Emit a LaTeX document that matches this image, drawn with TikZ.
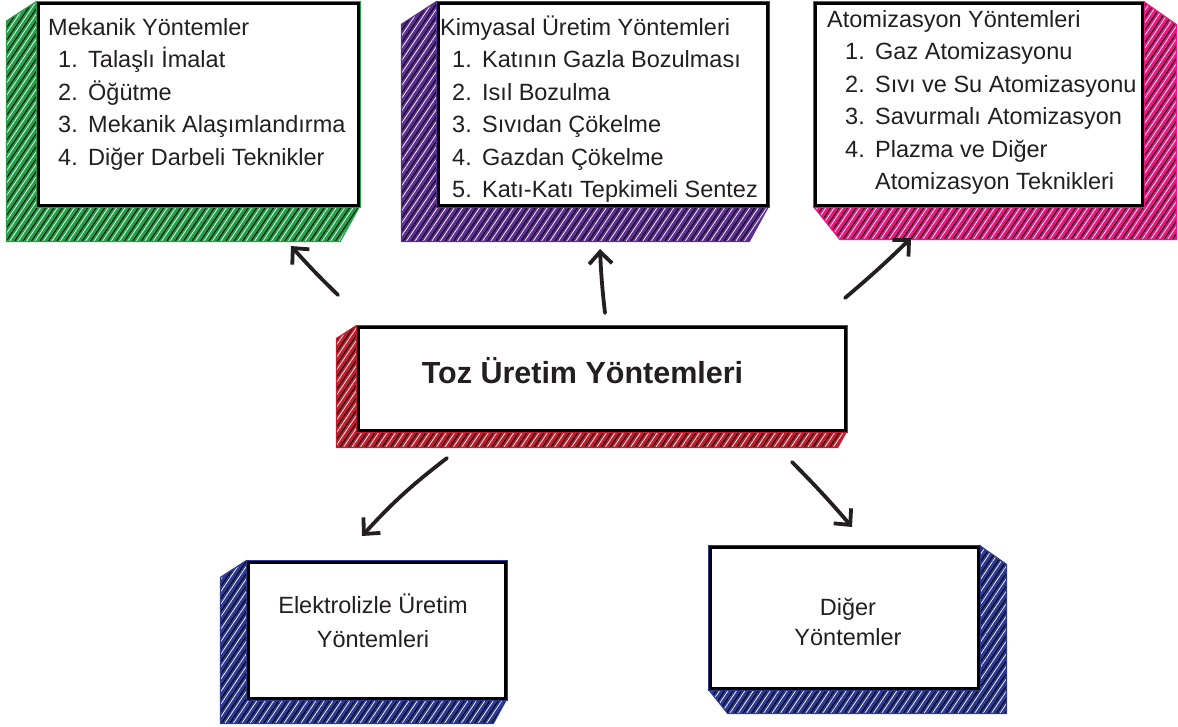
\documentclass[tikz,border=0pt]{standalone}
\usepackage{fontspec}
\setmainfont{Liberation Sans}
\usepackage{tikz}
\usetikzlibrary{arrows.meta,patterns.meta,backgrounds,calc}

\definecolor{mekgreen}{RGB}{34,160,72}
\definecolor{kimpurple}{RGB}{92,46,145}
\definecolor{atopink}{RGB}{230,23,128}
\definecolor{tozred}{RGB}{190,30,45}
\definecolor{elkblue}{RGB}{43,57,144}
\definecolor{inkgray}{RGB}{35,31,32}

% hatched side of a box, going left and down
\newcommand{\slableft}[4]{%
  \path[slab=#2] (#1.north west) -- ++(-#3,0.65*#3) -- ($(#1.south west)+(-#3,#4)$)
    -- ($(#1.south east)+(-0.55*#4,#4)$) -- (#1.south east) -- cycle;}
% hatched side of a box, going right and down
\newcommand{\slabright}[4]{%
  \path[slab=#2] (#1.north east) -- ++(#3,0.7*#3) -- ($(#1.south east)+(#3,#4)$)
    -- ($(#1.south west)+(0.8*#4,#4)$) -- (#1.south west) -- cycle;}

\begin{document}
\begin{tikzpicture}[x=1pt,y=-1pt,>={Straight Barb[length=12pt,width=23pt]},
  face/.style={rectangle,fill=white,draw=black,line width=3pt,inner sep=0pt,
    preaction={draw=#1,line width=5pt}},
  slab/.style={preaction={fill=#1},
    preaction={pattern={Lines[angle=56,distance=7pt,line width=0.9pt]},pattern color=black},
    pattern={Lines[angle=56,distance=7pt,xshift=3.5pt,line width=0.7pt]},pattern color=white,
    draw=#1,line width=1.2pt},
  list node/.style={anchor=base west,inner sep=0pt,text=inkgray,
    font=\fontsize{23.5}{32.5}\selectfont},
  sketch/.style={->,line width=3.8pt,line cap=round,line join=round,draw=inkgray}]

  \useasboundingbox (0,0) rectangle (1178,726);

  \node[face=mekgreen,minimum width=320pt,minimum height=202pt] (mek) at (198,104) {};
  \node[face=kimpurple,minimum width=329pt,minimum height=202pt] (kim) at (602.5,104) {};
  \node[face=atopink,minimum width=327pt,minimum height=202pt] (ato) at (978.5,104) {};
  \node[face=tozred,minimum width=487pt,minimum height=103pt] (toz) at (601.5,378.5) {};
  \node[face=elkblue,minimum width=257pt,minimum height=136pt] (elk) at (376.5,630) {};
  \node[face=elkblue,minimum width=268pt,minimum height=141pt] (dig) at (844,617.5) {};

  \begin{scope}[on background layer]
    \slableft{mek}{mekgreen}{30}{35}
    \slableft{kim}{kimpurple}{35}{35}
    \slabright{ato}{atopink}{33}{33}
    \slableft{toz}{tozred}{20}{16}
    \slableft{elk}{elkblue}{26}{24}
    \slabright{dig}{elkblue}{27}{24}
  \end{scope}

  \node[list node] (mektxt) at (48,35) {\begin{tabular}[t]{@{\hspace{10pt}}p{30pt}@{}l@{}}
    \multicolumn{2}{@{}l@{}}{Mekanik Yöntemler}\\
    1. & Talaşlı İmalat\\
    2. & Öğütme\\
    3. & Mekanik Alaşımlandırma\\
    4. & Diğer Darbeli Teknikler
  \end{tabular}};
  \node[list node] (kimtxt) at (440,35) {\begin{tabular}[t]{@{\hspace{12pt}}p{30pt}@{}l@{}}
    \multicolumn{2}{@{}l@{}}{Kimyasal Üretim Yöntemleri}\\
    1. & Katının Gazla Bozulması\\
    2. & Isıl Bozulma\\
    3. & Sıvıdan Çökelme\\
    4. & Gazdan Çökelme\\
    5. & Katı-Katı Tepkimeli Sentez
  \end{tabular}};
  \node[list node] (atotxt) at (827,27) {\begin{tabular}[t]{@{\hspace{18pt}}p{30pt}@{}l@{}}
    \multicolumn{2}{@{}l@{}}{Atomizasyon Yöntemleri}\\
    1. & Gaz Atomizasyonu\\
    2. & Sıvı ve Su Atomizasyonu\\
    3. & Savurmalı Atomizasyon\\
    4. & Plazma ve Diğer\\
       & Atomizasyon Teknikleri
  \end{tabular}};

  \node[anchor=base,inner sep=0pt,text=inkgray,font=\bfseries\fontsize{30.5}{36}\selectfont]
    (toztxt) at (582.5,383) {Toz Üretim Yöntemleri};
  \node[anchor=base,inner sep=0pt,text=inkgray,font=\fontsize{23.5}{34}\selectfont]
    (elktxt) at (373,613) {\begin{tabular}[t]{@{}c@{}}Elektrolizle Üretim\\Yöntemleri\end{tabular}};
  \node[anchor=base,inner sep=0pt,text=inkgray,font=\fontsize{23.5}{30}\selectfont]
    (digtxt) at (848,615) {\begin{tabular}[t]{@{}c@{}}Diğer\\Yöntemler\end{tabular}};

  % hand drawn arrows
  \coordinate (a1s) at (338,295);
  \coordinate (a1e) at (291,246);
  \coordinate (a2s) at (605,313);
  \coordinate (a2e) at (600,249);
  \coordinate (a3s) at (845,298);
  \coordinate (a3e) at (911,238);
  \coordinate (a4s) at (447,458);
  \coordinate (a4e) at (362,536);
  \coordinate (a5s) at (792,462);
  \coordinate (a5e) at (852,527);

  \draw[sketch] (a1s) to[bend left=2] (a1e);
  \draw[sketch] (a2s) to[bend left=2] (a2e);
  \draw[sketch] (a3s) to[bend right=2] (a3e);
  \draw[sketch] (a4s) to[bend right=5] (a4e);
  \draw[sketch] (a5s) to[bend left=2] (a5e);

\end{tikzpicture}
\end{document}
